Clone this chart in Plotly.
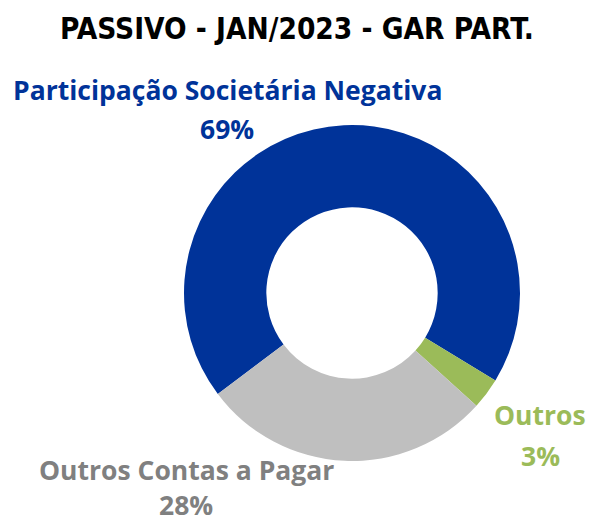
import plotly.graph_objects as go

labels = ["Participação Societária Negativa", "Outros", "Outros Contas a Pagar"]
values = [69, 3, 28]
colors = ["#003399", "#9BBB59", "#BFBFBF"]
label_colors = ["#003399", "#9BBB59", "#808080"]
title = "PASSIVO - JAN/2023 - GAR PART."

W, H = 595, 524
fig = go.Figure(go.Pie(
    labels=labels, values=values, sort=False, direction="clockwise",
    rotation=233, hole=0.51, textinfo="none", hoverinfo="label+percent",
    marker=dict(colors=colors, line=dict(color="white", width=0)),
    domain=dict(x=[(352-168)/W, (352+168)/W], y=[(231-168)/H, (231+168)/H]),
    showlegend=False,
))

lab_font = "'Open Sans', 'Noto Sans', sans-serif"
title_font = "'DejaVu Sans Condensed', 'DejaVu Sans', sans-serif"
# label positions (pixel centers) for each slice: name line, percent line
pos = [((227, 90), (227, 129)), ((540, 415), (540, 456)), ((186, 470), (186, 505))]
ann = []
for lab, v, c, (p1, p2) in zip(labels, values, label_colors, pos):
    ann.append(dict(text=f"<b>{lab}</b>", x=p1[0]/W, y=1-p1[1]/H, xref="paper", yref="paper",
                    showarrow=False, xanchor="center", yanchor="middle",
                    font=dict(family=lab_font, size=26.5, color=c)))
    ann.append(dict(text=f"<b>{v}%</b>", x=p2[0]/W, y=1-p2[1]/H, xref="paper", yref="paper",
                    showarrow=False, xanchor="center", yanchor="middle",
                    font=dict(family=lab_font, size=26.5, color=c)))
ann.append(dict(text=f"<b>{title}</b>", x=297/W, y=1-29/H, xref="paper", yref="paper",
                showarrow=False, xanchor="center", yanchor="middle",
                font=dict(family=title_font, size=29.5, color="black")))

fig.update_layout(width=W, height=H, margin=dict(l=0, r=0, t=0, b=0),
                  paper_bgcolor="white", plot_bgcolor="white", annotations=ann)
fig.write_html("out.html", config={"displayModeBar": False},
               post_script="document.body.style.margin='0';")
